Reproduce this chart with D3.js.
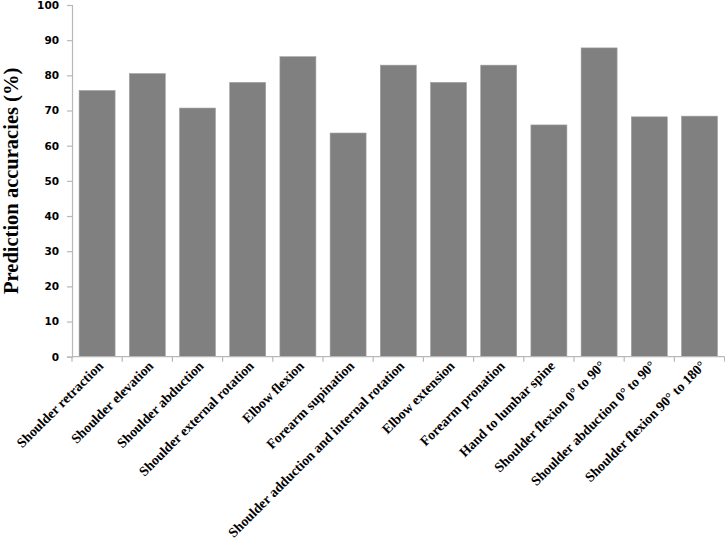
<!DOCTYPE html>
<html>
<head>
<meta charset="utf-8">
<script src="https://cdn.jsdelivr.net/npm/d3@7/dist/d3.min.js"></script>
<style>
  html, body { margin: 0; padding: 0; background: #fff; }
  svg { display: block; }
</style>
</head>
<body>
<div id="chart"></div>
<script>
const categories = [
  "Shoulder retraction",
  "Shoulder elevation",
  "Shoulder abduction",
  "Shoulder external rotation",
  "Elbow flexion",
  "Forearm supination",
  "Shoulder adduction and internal rotation",
  "Elbow extension",
  "Forearm pronation",
  "Hand to lumbar spine",
  "Shoulder flexion 0° to 90°",
  "Shoulder abduction 0° to 90°",
  "Shoulder flexion 90° to 180°"
];
const accuracies = [75.7, 80.5, 70.7, 78.0, 85.3, 63.6, 82.9, 78.0, 82.9, 65.9, 87.8, 68.2, 68.4];
const yTicks = [0, 10, 20, 30, 40, 50, 60, 70, 80, 90, 100];
const yTitle = "Prediction accuracies (%)";

const W = 725, H = 539;
const mLeft = 72, mRight = 724.6, mTop = 5, mBottom = 356.7;

const svg = d3.select("#chart").append("svg").attr("width", W).attr("height", H);

const x = d3.scaleBand().domain(categories).range([mLeft, mRight]).paddingInner(0.283).paddingOuter(0.1415);
const y = d3.scaleLinear().domain([0, 100]).range([mBottom, mTop]);

const axisColor = "#b8b8b8";

// bars
svg.append("g").selectAll("rect").data(categories).join("rect")
  .attr("x", d => x(d))
  .attr("y", (d, i) => y(accuracies[i]))
  .attr("width", x.bandwidth())
  .attr("height", (d, i) => y(0) - y(accuracies[i]))
  .attr("fill", "#808080")
  .attr("stroke", "#a0a0a0")
  .attr("stroke-width", 0.6);

// y axis
const yAxis = svg.append("g").attr("transform", `translate(${mLeft},0)`)
  .call(d3.axisLeft(y).tickValues(yTicks).tickSize(5).tickPadding(8).tickFormat(d3.format("d")));
yAxis.select(".domain").attr("stroke", axisColor).attr("stroke-width", 1.2);
yAxis.selectAll(".tick line").attr("stroke", axisColor).attr("stroke-width", 1.2);
yAxis.selectAll(".tick text")
  .attr("font-family", "DejaVu Sans, sans-serif")
  .attr("font-weight", "bold")
  .attr("font-size", "10.5px")
  .attr("fill", "#000");

// x axis line and ticks at band boundaries
const xAxisG = svg.append("g");
xAxisG.append("line").attr("x1", mLeft).attr("x2", mRight).attr("y1", mBottom).attr("y2", mBottom)
  .attr("stroke", axisColor).attr("stroke-width", 1.2);
const step = x.step();
const boundaries = d3.range(categories.length + 1).map(i => mLeft + i * step);
xAxisG.selectAll("line.tk").data(boundaries).join("line").attr("class", "tk")
  .attr("x1", d => d).attr("x2", d => d).attr("y1", mBottom).attr("y2", mBottom + 5)
  .attr("stroke", axisColor).attr("stroke-width", 1.2);

// category labels
svg.append("g").selectAll("text").data(categories).join("text")
  .attr("transform", d => `translate(${x(d) + x.bandwidth() / 2 + 7},${mBottom + 10}) rotate(-45)`)
  .attr("text-anchor", "end")
  .attr("font-family", "'Liberation Serif', 'Times New Roman', serif")
  .attr("font-weight", "bold")
  .attr("font-size", "13.8px")
  .attr("fill", "#000")
  .text(d => d);

// y title
svg.append("text")
  .attr("transform", `translate(18,${(mTop + mBottom) / 2}) rotate(-90)`)
  .attr("text-anchor", "middle")
  .attr("font-family", "'Liberation Serif', 'Times New Roman', serif")
  .attr("font-weight", "bold")
  .attr("font-size", "20.5px")
  .attr("fill", "#000")
  .text(yTitle);
</script>
</body>
</html>
